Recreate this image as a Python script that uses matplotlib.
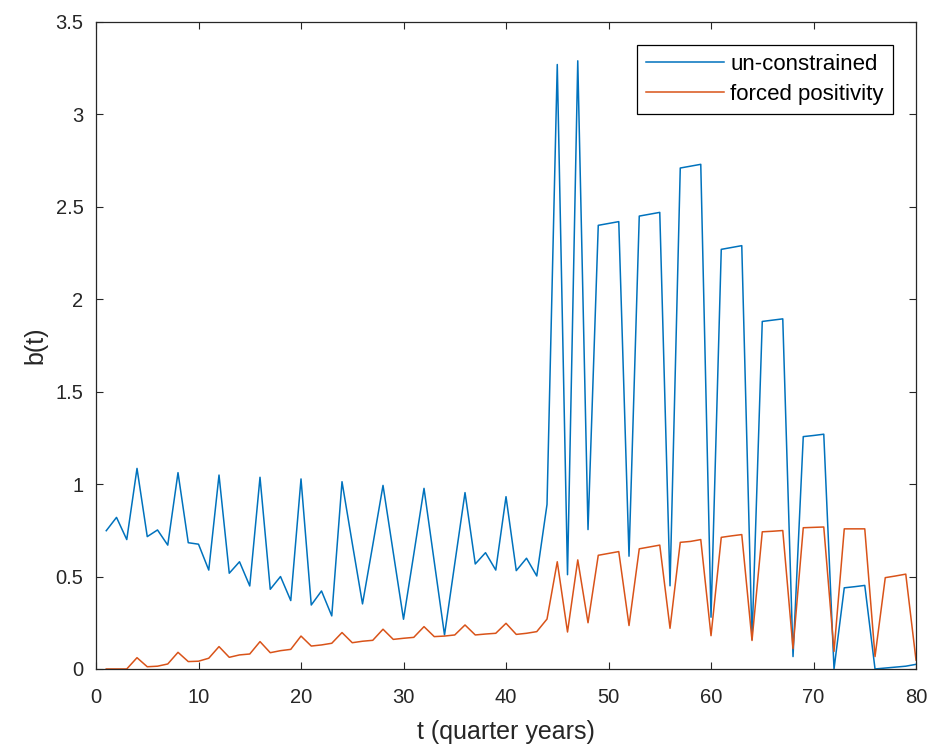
import matplotlib
matplotlib.use('Agg')
import matplotlib.pyplot as plt
import numpy as np

#------------------------------------------------
# data (t = 1..80)
t = np.arange(1, 81)

b_free = [0.748, 0.82, 0.70, 1.085, 0.716, 0.752, 0.67, 1.062, 0.683, 0.675,
          0.535, 1.049, 0.518, 0.58, 0.449, 1.037, 0.431, 0.50, 0.37, 1.028,
          0.346, 0.422, 0.287, 1.013, 0.68, 0.352, 0.67, 0.993, 0.63, 0.269,
          0.62, 0.977, 0.58, 0.184, 0.57, 0.954, 0.568, 0.629, 0.535, 0.932,
          0.532, 0.599, 0.503, 0.89, 3.27, 0.51, 3.29, 0.754, 2.40, 2.41,
          2.42, 0.61, 2.45, 2.46, 2.47, 0.45, 2.71, 2.72, 2.73, 0.28,
          2.27, 2.28, 2.29, 0.16, 1.88, 1.887, 1.894, 0.067, 1.257, 1.263,
          1.27, 0.0, 0.439, 0.445, 0.452, 0.0, 0.005, 0.01, 0.015, 0.025]

b_pos = [0.0, 0.0, 0.0, 0.061, 0.012, 0.015, 0.027, 0.09, 0.04, 0.042,
         0.058, 0.121, 0.063, 0.076, 0.081, 0.148, 0.088, 0.099, 0.106, 0.178,
         0.124, 0.13, 0.139, 0.197, 0.142, 0.15, 0.155, 0.215, 0.16, 0.166,
         0.171, 0.229, 0.175, 0.178, 0.184, 0.238, 0.184, 0.189, 0.193, 0.247,
         0.187, 0.193, 0.202, 0.27, 0.58, 0.2, 0.59, 0.25, 0.615, 0.625,
         0.635, 0.235, 0.65, 0.66, 0.67, 0.22, 0.685, 0.69, 0.70, 0.18,
         0.712, 0.72, 0.727, 0.154, 0.742, 0.745, 0.749, 0.11, 0.764, 0.766,
         0.768, 0.095, 0.758, 0.758, 0.758, 0.067, 0.494, 0.503, 0.513, 0.048]

labels = ['un-constrained', 'forced positivity']
xticks = np.arange(0, 81, 10)
yticks = np.arange(0, 3.51, 0.5)

#------------------------------------------------
plt.rcParams['font.family'] = ['Liberation Sans', 'DejaVu Sans']
axcol = '#262626'

fig = plt.figure(figsize=(9.33, 7.53), dpi=100)
ax = fig.add_axes([0.1029, 0.1116, 0.8789, 0.8592])

ax.plot(t, b_free, color='#0072BD', lw=1.1, label=labels[0])
ax.plot(t, b_pos, color='#D95319', lw=1.1, label=labels[1])

ax.set_xlim(0, 80)
ax.set_ylim(0, 3.5)
ax.set_xticks(xticks)
ax.set_yticks(yticks)
ax.set_yticklabels(['{:g}'.format(v) for v in yticks])

ax.tick_params(direction='in', length=5, width=0.8, colors=axcol,
               labelsize=14.5, top=True, right=True)
ax.tick_params(axis='x', pad=14)
ax.tick_params(axis='y', pad=9)
for s in ax.spines.values():
    s.set_color(axcol)
    s.set_linewidth(0.9)

ax.set_xlabel('t (quarter years)', fontsize=18, color=axcol, labelpad=9)
ax.set_ylabel('b(t)', fontsize=18, color=axcol, labelpad=6)

leg = ax.legend(loc='upper right', fontsize=16, frameon=True, fancybox=False,
                edgecolor='black', framealpha=1, borderaxespad=1.05,
                handlelength=3.5, handletextpad=0.3, borderpad=0.4,
                labelspacing=0.4)
leg.get_frame().set_linewidth(0.9)

fig.savefig('out.png', dpi=100)
